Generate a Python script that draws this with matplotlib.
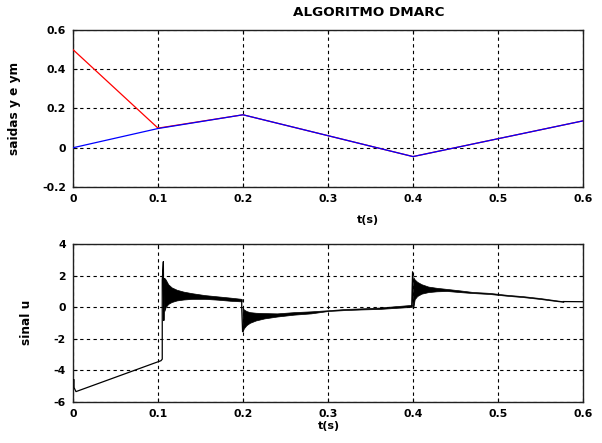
import numpy as np
import matplotlib
matplotlib.use("Agg")
import matplotlib.pyplot as plt

# ---------------- data ----------------
# top plot: reference model output ym (blue) and plant output y (red)
t_ym = [0.0, 0.1, 0.2, 0.4, 0.6]
ym = [0.0, 0.098, 0.168, -0.045, 0.137]
t_y = [0.0, 0.1, 0.2, 0.4, 0.6]
y = [0.50, 0.100, 0.168, -0.045, 0.137]

# bottom plot: control signal u, smooth/jump pieces
segA_t = [0.0, 0.0012, 0.0012, 0.0035, 0.1035, 0.1050, 0.1050, 0.1063, 0.1068, 0.1075]
segA_u = [-4.60, -4.60, -5.10, -5.36, -3.40, -3.30, 1.70, 2.88, -0.85, 1.80]
segB_t = [0.1985, 0.1985, 0.1995]
segB_u = [0.40, -0.05, -1.55]
segC_t = [0.3985, 0.3995, 0.4003]
segC_u = [0.08, 2.24, -0.05]
segD_t = [0.577, 0.60]
segD_u = [0.35, 0.34]

# oscillation envelopes of u after each reference switch
band1_t = [0.1075, 0.109, 0.112, 0.116, 0.122, 0.13, 0.14, 0.155, 0.17, 0.185, 0.1985]
band1_hi = [1.85, 1.75, 1.45, 1.25, 1.10, 0.98, 0.88, 0.76, 0.68, 0.60, 0.52]
band1_lo = [-0.25, 0.00, 0.20, 0.32, 0.42, 0.48, 0.52, 0.52, 0.47, 0.40, 0.36]

band2_t = [0.1995, 0.201, 0.204, 0.208, 0.215, 0.225, 0.24, 0.26, 0.28, 0.30,
           0.32, 0.34, 0.36, 0.38, 0.3985]
band2_hi = [-0.05, -0.15, -0.25, -0.32, -0.36, -0.38, -0.40, -0.32, -0.27, -0.20,
            -0.12, -0.08, -0.03, 0.06, 0.14]
band2_lo = [-1.55, -1.35, -1.15, -1.00, -0.85, -0.72, -0.60, -0.48, -0.40, -0.25,
            -0.19, -0.15, -0.12, -0.05, 0.01]

band3_t = [0.4003, 0.402, 0.405, 0.41, 0.418, 0.428, 0.44, 0.455, 0.47, 0.49,
           0.51, 0.53, 0.55, 0.57, 0.577]
band3_hi = [1.90, 1.75, 1.60, 1.45, 1.30, 1.22, 1.15, 1.06, 0.96, 0.90,
            0.78, 0.69, 0.57, 0.42, 0.37]
band3_lo = [-0.05, 0.50, 0.70, 0.85, 0.95, 1.00, 1.02, 0.95, 0.89, 0.83,
            0.72, 0.63, 0.51, 0.37, 0.33]

x_ticks = [0, 0.1, 0.2, 0.3, 0.4, 0.5, 0.6]
x_ticklabels = ["0", "0.1", "0.2", "0.3", "0.4", "0.5", "0.6"]
y1_ticks = [-0.2, 0, 0.2, 0.4, 0.6]
y1_ticklabels = ["-0.2", "0", "0.2", "0.4", "0.6"]
y2_ticks = [-6, -4, -2, 0, 2, 4]
y2_ticklabels = ["-6", "-4", "-2", "0", "2", "4"]

title_text = "ALGORITMO DMARC"
xlabel_text = "t(s)"
ylabel1_text = "saidas y e ym"
ylabel2_text = "sinal u"

# ---------------- figure ----------------
W, H = 602, 443
fig = plt.figure(figsize=(W / 100, H / 100), dpi=100)
fig.patch.set_facecolor("white")
font = "DejaVu Sans"

def px_axes(l, t, r, b):
    return fig.add_axes([l / W, 1 - b / H, (r - l) / W, (b - t) / H])

ax1 = px_axes(73, 30, 583, 187)
ax2 = px_axes(73, 244, 583, 401.7)

def style(ax, yt, ytl, ylim):
    ax.set_xlim(0, 0.6)
    ax.set_ylim(*ylim)
    ax.set_xticks(x_ticks)
    ax.set_xticklabels(x_ticklabels)
    ax.set_yticks(yt)
    ax.set_yticklabels(ytl)
    ax.tick_params(direction="in", length=3, width=0.8, top=True, right=True,
                   labelsize=7.8, colors="black", pad=5)
    for lab in ax.get_xticklabels() + ax.get_yticklabels():
        lab.set_fontweight("bold")
        lab.set_family(font)
    ax.grid(True, color="black", linestyle=(0, (3, 3)), linewidth=0.8)
    ax.set_axisbelow(True)
    for s in ax.spines.values():
        s.set_linewidth(1.0)
        s.set_color("#202020")

style(ax1, y1_ticks, y1_ticklabels, (-0.2, 0.6))
style(ax2, y2_ticks, y2_ticklabels, (-6, 4))

ax1.plot(t_y, y, color="red", linewidth=0.9, zorder=3)
ax1.plot(t_ym, ym, color="blue", linewidth=0.9, zorder=4)

for st, su in [(segA_t, segA_u), (segB_t, segB_u), (segC_t, segC_u), (segD_t, segD_u)]:
    ax2.plot(st, su, color="black", linewidth=0.9, zorder=3)
for bt, bh, bl in [(band1_t, band1_hi, band1_lo),
                   (band2_t, band2_hi, band2_lo),
                   (band3_t, band3_hi, band3_lo)]:
    ax2.fill_between(bt, bl, bh, color="black", linewidth=0.5, zorder=3)

ax1.set_ylabel(ylabel1_text, fontsize=8.7, fontweight="bold", family=font)
ax1.yaxis.set_label_coords((21.5 - 73) / 510, 0.5)
ax2.set_ylabel(ylabel2_text, fontsize=8.7, fontweight="bold", family=font)
ax2.yaxis.set_label_coords((33 - 73) / 510, 0.5)

fig.text(368.5 / W, 1 - 13 / H, title_text, ha="center", va="center",
         fontsize=9.7, fontweight="bold", family=font)
fig.text(367.5 / W, 1 - 220 / H, xlabel_text, ha="center", va="center",
         fontsize=8, fontweight="bold", family=font)
fig.text(329 / W, 1 - 426 / H, xlabel_text, ha="center", va="center",
         fontsize=8, fontweight="bold", family=font)

fig.savefig("out.png", dpi=100, facecolor="white")
